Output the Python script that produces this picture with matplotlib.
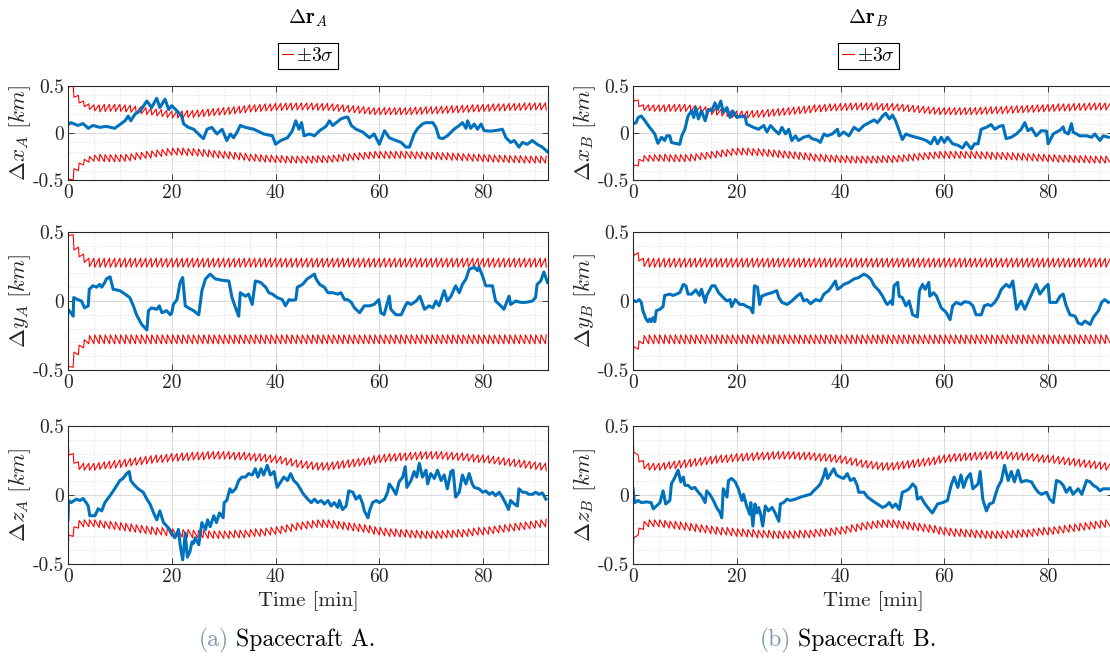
import numpy as np
import matplotlib
matplotlib.use('Agg')
import matplotlib.pyplot as plt
from matplotlib.ticker import MultipleLocator, FuncFormatter
from matplotlib.lines import Line2D

plt.rcParams['font.family'] = 'cmr10'
plt.rcParams['mathtext.fontset'] = 'cm'
plt.rcParams['axes.unicode_minus'] = False
plt.rcParams['axes.formatter.use_mathtext'] = True

# filter update times [min]
t_upd = np.arange(0, 93)

# 3-sigma bound just before (peak) and just after (trough) each update
sig_xA_peak = [0.49, 0.50, 0.40, 0.34, 0.31, 0.30, 0.30, 0.305, 0.305, 0.305,
               0.305, 0.30, 0.295, 0.285, 0.28, 0.27, 0.265, 0.255, 0.25, 0.24,
               0.235, 0.235, 0.235, 0.24, 0.24, 0.245, 0.25, 0.255, 0.26, 0.265,
               0.27, 0.275, 0.28, 0.285, 0.29, 0.30, 0.30, 0.305, 0.31, 0.31,
               0.315, 0.315, 0.32, 0.32, 0.32, 0.32, 0.32, 0.32, 0.315, 0.315,
               0.315, 0.31, 0.305, 0.30, 0.295, 0.29, 0.285, 0.28, 0.275, 0.27,
               0.27, 0.27, 0.27, 0.27, 0.27, 0.27, 0.27, 0.275, 0.275, 0.28,
               0.28, 0.28, 0.285, 0.285, 0.29, 0.29, 0.295, 0.295, 0.30, 0.30,
               0.305, 0.305, 0.31, 0.31, 0.31, 0.315, 0.315, 0.315, 0.32, 0.32,
               0.32, 0.32, 0.32]
sig_xA_trough = [0.49, 0.38, 0.32, 0.28, 0.25, 0.235, 0.225, 0.23, 0.23, 0.23,
                 0.23, 0.225, 0.22, 0.21, 0.205, 0.195, 0.19, 0.18, 0.175, 0.165,
                 0.16, 0.16, 0.16, 0.165, 0.165, 0.17, 0.175, 0.18, 0.185, 0.19,
                 0.195, 0.20, 0.205, 0.21, 0.215, 0.225, 0.225, 0.23, 0.235, 0.235,
                 0.24, 0.24, 0.245, 0.245, 0.245, 0.245, 0.245, 0.245, 0.24, 0.24,
                 0.24, 0.235, 0.23, 0.225, 0.22, 0.215, 0.21, 0.205, 0.20, 0.195,
                 0.195, 0.195, 0.195, 0.195, 0.195, 0.195, 0.195, 0.20, 0.20, 0.205,
                 0.205, 0.205, 0.21, 0.21, 0.215, 0.215, 0.22, 0.22, 0.225, 0.225,
                 0.23, 0.23, 0.235, 0.235, 0.235, 0.24, 0.24, 0.24, 0.245, 0.245,
                 0.245, 0.245, 0.245]
sig_xB_peak = [0.44, 0.35, 0.30, 0.30, 0.30, 0.30, 0.30, 0.305, 0.305, 0.305,
               0.305, 0.30, 0.295, 0.285, 0.28, 0.27, 0.265, 0.255, 0.25, 0.24,
               0.235, 0.235, 0.235, 0.24, 0.24, 0.245, 0.25, 0.255, 0.26, 0.265,
               0.27, 0.275, 0.28, 0.285, 0.29, 0.30, 0.30, 0.305, 0.31, 0.31,
               0.315, 0.315, 0.32, 0.32, 0.32, 0.32, 0.32, 0.32, 0.315, 0.315,
               0.315, 0.31, 0.305, 0.30, 0.295, 0.29, 0.285, 0.28, 0.275, 0.27,
               0.27, 0.27, 0.27, 0.27, 0.27, 0.27, 0.27, 0.275, 0.275, 0.28,
               0.28, 0.28, 0.285, 0.285, 0.29, 0.29, 0.295, 0.295, 0.30, 0.30,
               0.305, 0.305, 0.31, 0.31, 0.31, 0.315, 0.315, 0.315, 0.32, 0.32,
               0.32, 0.32, 0.32]
sig_xB_trough = [0.34, 0.28, 0.24, 0.235, 0.23, 0.23, 0.225, 0.23, 0.23, 0.23,
                 0.23, 0.225, 0.22, 0.21, 0.205, 0.195, 0.19, 0.18, 0.175, 0.165,
                 0.16, 0.16, 0.16, 0.165, 0.165, 0.17, 0.175, 0.18, 0.185, 0.19,
                 0.195, 0.20, 0.205, 0.21, 0.215, 0.225, 0.225, 0.23, 0.235, 0.235,
                 0.24, 0.24, 0.245, 0.245, 0.245, 0.245, 0.245, 0.245, 0.24, 0.24,
                 0.24, 0.235, 0.23, 0.225, 0.22, 0.215, 0.21, 0.205, 0.20, 0.195,
                 0.195, 0.195, 0.195, 0.195, 0.195, 0.195, 0.195, 0.20, 0.20, 0.205,
                 0.205, 0.205, 0.21, 0.21, 0.215, 0.215, 0.22, 0.22, 0.225, 0.225,
                 0.23, 0.23, 0.235, 0.235, 0.235, 0.24, 0.24, 0.24, 0.245, 0.245,
                 0.245, 0.245, 0.245]
sig_yA_peak = [0.475, 0.48, 0.39, 0.34, 0.31, 0.31, 0.31, 0.31, 0.31, 0.31,
               0.31, 0.31, 0.31, 0.31, 0.31, 0.31, 0.31, 0.31, 0.31, 0.31,
               0.31, 0.31, 0.31, 0.31, 0.31, 0.31, 0.31, 0.31, 0.31, 0.31,
               0.31, 0.31, 0.31, 0.31, 0.31, 0.31, 0.31, 0.31, 0.31, 0.31,
               0.31, 0.31, 0.31, 0.31, 0.31, 0.31, 0.31, 0.31, 0.31, 0.31,
               0.31, 0.31, 0.31, 0.31, 0.31, 0.31, 0.31, 0.31, 0.31, 0.31,
               0.31, 0.31, 0.31, 0.31, 0.31, 0.31, 0.31, 0.31, 0.31, 0.31,
               0.31, 0.31, 0.31, 0.31, 0.31, 0.31, 0.31, 0.31, 0.31, 0.31,
               0.31, 0.31, 0.31, 0.31, 0.31, 0.31, 0.31, 0.31, 0.31, 0.31,
               0.31, 0.31, 0.31]
sig_yA_trough = [0.475, 0.37, 0.32, 0.28, 0.25, 0.245, 0.245, 0.245, 0.245, 0.245,
                 0.245, 0.245, 0.245, 0.245, 0.245, 0.245, 0.245, 0.245, 0.245, 0.245,
                 0.245, 0.245, 0.245, 0.245, 0.245, 0.245, 0.245, 0.245, 0.245, 0.245,
                 0.245, 0.245, 0.245, 0.245, 0.245, 0.245, 0.245, 0.245, 0.245, 0.245,
                 0.245, 0.245, 0.245, 0.245, 0.245, 0.245, 0.245, 0.245, 0.245, 0.245,
                 0.245, 0.245, 0.245, 0.245, 0.245, 0.245, 0.245, 0.245, 0.245, 0.245,
                 0.245, 0.245, 0.245, 0.245, 0.245, 0.245, 0.245, 0.245, 0.245, 0.245,
                 0.245, 0.245, 0.245, 0.245, 0.245, 0.245, 0.245, 0.245, 0.245, 0.245,
                 0.245, 0.245, 0.245, 0.245, 0.245, 0.245, 0.245, 0.245, 0.245, 0.245,
                 0.245, 0.245, 0.245]
sig_yB_peak = [0.45, 0.35, 0.31, 0.31, 0.31, 0.31, 0.31, 0.31, 0.31, 0.31,
               0.31, 0.31, 0.31, 0.31, 0.31, 0.31, 0.31, 0.31, 0.31, 0.31,
               0.31, 0.31, 0.31, 0.31, 0.31, 0.31, 0.31, 0.31, 0.31, 0.31,
               0.31, 0.31, 0.31, 0.31, 0.31, 0.31, 0.31, 0.31, 0.31, 0.31,
               0.31, 0.31, 0.31, 0.31, 0.31, 0.31, 0.31, 0.31, 0.31, 0.31,
               0.31, 0.31, 0.31, 0.31, 0.31, 0.31, 0.31, 0.31, 0.31, 0.31,
               0.31, 0.31, 0.31, 0.31, 0.31, 0.31, 0.31, 0.31, 0.31, 0.31,
               0.31, 0.31, 0.31, 0.31, 0.31, 0.31, 0.31, 0.31, 0.31, 0.31,
               0.31, 0.31, 0.31, 0.31, 0.31, 0.31, 0.31, 0.31, 0.31, 0.31,
               0.31, 0.31, 0.31]
sig_yB_trough = [0.33, 0.29, 0.25, 0.245, 0.245, 0.245, 0.245, 0.245, 0.245, 0.245,
                 0.245, 0.245, 0.245, 0.245, 0.245, 0.245, 0.245, 0.245, 0.245, 0.245,
                 0.245, 0.245, 0.245, 0.245, 0.245, 0.245, 0.245, 0.245, 0.245, 0.245,
                 0.245, 0.245, 0.245, 0.245, 0.245, 0.245, 0.245, 0.245, 0.245, 0.245,
                 0.245, 0.245, 0.245, 0.245, 0.245, 0.245, 0.245, 0.245, 0.245, 0.245,
                 0.245, 0.245, 0.245, 0.245, 0.245, 0.245, 0.245, 0.245, 0.245, 0.245,
                 0.245, 0.245, 0.245, 0.245, 0.245, 0.245, 0.245, 0.245, 0.245, 0.245,
                 0.245, 0.245, 0.245, 0.245, 0.245, 0.245, 0.245, 0.245, 0.245, 0.245,
                 0.245, 0.245, 0.245, 0.245, 0.245, 0.245, 0.245, 0.245, 0.245, 0.245,
                 0.245, 0.245, 0.245]
sig_zA_peak = [0.46, 0.30, 0.24, 0.23, 0.23, 0.23, 0.235, 0.24, 0.245, 0.25,
               0.255, 0.26, 0.265, 0.27, 0.275, 0.28, 0.285, 0.29, 0.29, 0.295,
               0.30, 0.30, 0.305, 0.305, 0.31, 0.31, 0.31, 0.315, 0.315, 0.315,
               0.315, 0.315, 0.31, 0.31, 0.31, 0.305, 0.30, 0.30, 0.295, 0.29,
               0.285, 0.28, 0.27, 0.265, 0.255, 0.25, 0.245, 0.24, 0.235, 0.235,
               0.235, 0.24, 0.245, 0.25, 0.255, 0.26, 0.265, 0.27, 0.275, 0.285,
               0.29, 0.295, 0.30, 0.30, 0.305, 0.305, 0.31, 0.31, 0.315, 0.315,
               0.315, 0.315, 0.315, 0.31, 0.31, 0.305, 0.305, 0.30, 0.295, 0.29,
               0.29, 0.285, 0.28, 0.275, 0.27, 0.265, 0.26, 0.255, 0.25, 0.245,
               0.24, 0.235, 0.23]
sig_zA_trough = [0.29, 0.23, 0.185, 0.18, 0.18, 0.18, 0.185, 0.19, 0.19, 0.195,
                 0.20, 0.205, 0.21, 0.215, 0.22, 0.225, 0.23, 0.235, 0.235, 0.24,
                 0.245, 0.245, 0.25, 0.25, 0.255, 0.255, 0.255, 0.26, 0.26, 0.26,
                 0.26, 0.26, 0.255, 0.255, 0.255, 0.25, 0.245, 0.245, 0.24, 0.235,
                 0.23, 0.225, 0.215, 0.21, 0.20, 0.195, 0.19, 0.185, 0.18, 0.18,
                 0.18, 0.185, 0.19, 0.195, 0.20, 0.205, 0.21, 0.215, 0.22, 0.23,
                 0.235, 0.24, 0.245, 0.245, 0.25, 0.25, 0.255, 0.255, 0.26, 0.26,
                 0.26, 0.26, 0.26, 0.255, 0.255, 0.25, 0.25, 0.245, 0.24, 0.235,
                 0.235, 0.23, 0.225, 0.22, 0.215, 0.21, 0.205, 0.20, 0.195, 0.19,
                 0.185, 0.18, 0.175]
sig_zB_peak = [0.45, 0.29, 0.25, 0.23, 0.23, 0.23, 0.235, 0.24, 0.245, 0.25,
               0.255, 0.26, 0.265, 0.27, 0.275, 0.28, 0.285, 0.29, 0.29, 0.295,
               0.30, 0.30, 0.305, 0.305, 0.31, 0.31, 0.31, 0.315, 0.315, 0.315,
               0.315, 0.315, 0.31, 0.31, 0.31, 0.305, 0.30, 0.30, 0.295, 0.29,
               0.285, 0.28, 0.27, 0.265, 0.255, 0.25, 0.245, 0.24, 0.235, 0.235,
               0.235, 0.24, 0.245, 0.25, 0.255, 0.26, 0.265, 0.27, 0.275, 0.285,
               0.29, 0.295, 0.30, 0.30, 0.305, 0.305, 0.31, 0.31, 0.315, 0.315,
               0.315, 0.315, 0.315, 0.31, 0.31, 0.305, 0.305, 0.30, 0.295, 0.29,
               0.29, 0.285, 0.28, 0.275, 0.27, 0.265, 0.26, 0.255, 0.25, 0.245,
               0.24, 0.235, 0.23]
sig_zB_trough = [0.31, 0.24, 0.19, 0.18, 0.18, 0.18, 0.185, 0.19, 0.19, 0.195,
                 0.20, 0.205, 0.21, 0.215, 0.22, 0.225, 0.23, 0.235, 0.235, 0.24,
                 0.245, 0.245, 0.25, 0.25, 0.255, 0.255, 0.255, 0.26, 0.26, 0.26,
                 0.26, 0.26, 0.255, 0.255, 0.255, 0.25, 0.245, 0.245, 0.24, 0.235,
                 0.23, 0.225, 0.215, 0.21, 0.20, 0.195, 0.19, 0.185, 0.18, 0.18,
                 0.18, 0.185, 0.19, 0.195, 0.20, 0.205, 0.21, 0.215, 0.22, 0.23,
                 0.235, 0.24, 0.245, 0.245, 0.25, 0.25, 0.255, 0.255, 0.26, 0.26,
                 0.26, 0.26, 0.26, 0.255, 0.255, 0.25, 0.25, 0.245, 0.24, 0.235,
                 0.235, 0.23, 0.225, 0.22, 0.215, 0.21, 0.205, 0.20, 0.195, 0.19,
                 0.185, 0.18, 0.175]

# estimation errors [km]
t_xA = [0, 0.6, 1.9, 2.9, 3.9, 4.8, 6.1, 7.4, 9.0, 10.0, 11.0, 11.6, 12.1, 12.9, 13.9,
        15.2, 16.1, 17.1, 17.7, 18.7, 19.4, 20.0, 21.0, 21.9, 22.3, 23.2, 24.2, 25.5,
        26.1, 26.8, 27.7, 28.7, 29.7, 30.6, 31.3, 31.9, 32.6, 33.2, 34.2, 35.8, 37.7,
        39.4, 40.0, 41.0, 42.3, 43.2, 43.9, 44.5, 45.0, 45.5, 46.5, 47.5, 48.5, 49.7,
        50.4, 51.0, 51.7, 52.6, 53.3, 53.9, 54.6, 55.5, 56.8, 58.1, 59.0, 60.0, 61.0,
        61.9, 63.2, 64.2, 65.1, 65.8, 66.7, 67.4, 68.3, 68.9, 70.3, 70.9, 71.5, 72.2,
        73.1, 74.4, 75.4, 76.0, 76.7, 77.0, 77.6, 78.3, 78.9, 79.6, 80.2, 81.5, 82.8,
        83.7, 84.4, 85.3, 86.0, 86.9, 87.6, 88.5, 89.5, 90.4, 91.4, 92.4]
e_xA = [0.09, 0.11, 0.08, 0.10, 0.05, 0.08, 0.06, 0.07, 0.05, 0.09, 0.13, 0.18, 0.13, 0.20, 0.235,
        0.34, 0.27, 0.37, 0.27, 0.36, 0.25, 0.29, 0.235, 0.18, 0.095, 0.06, 0.04, -0.03,
        -0.06, 0.04, 0.06, -0.01, 0.04, -0.08, -0.01, -0.05, 0.01, 0.08, 0.06, 0.04, -0.01,
        -0.03, -0.12, -0.08, -0.05, 0.02, 0.13, 0.04, 0.11, -0.03, -0.01, -0.03, 0.025, 0.07,
        0.13, 0.08, 0.11, 0.15, 0.165, 0.17, 0.08, 0.04, 0.01, -0.05, -0.01, -0.12, 0.025,
        -0.05, -0.08, -0.10, -0.15, -0.15, -0.01, 0.05, 0.095, 0.11, 0.11, 0.06, -0.05, -0.06,
        -0.03, 0.04, 0.08, 0.11, 0.05, 0.13, 0.05, 0.095, 0.04, 0.095, 0.025, 0.02, 0.03,
        0.04, -0.05, -0.10, -0.08, -0.15, -0.10, -0.12, -0.08, -0.12, -0.15, -0.20]

t_yA = [0, 0.45, 1.0, 1.1, 1.9, 2.6, 3.2, 3.9, 4.1, 4.8, 5.5, 6.1, 6.5, 7.1, 7.4, 8.1, 8.7,
        10.0, 11.0, 11.9, 12.6, 13.2, 14.2, 15.2, 15.5, 16.1, 17.1, 17.6, 18.1, 19.0, 19.7,
        20.0, 20.3, 21.0, 21.6, 22.1, 22.6, 23.2, 24.2, 25.2, 25.8, 26.5, 27.4, 28.4, 29.7,
        31.0, 31.6, 32.3, 32.9, 33.2, 34.2, 34.8, 35.5, 36.1, 37.1, 38.1, 38.7, 39.4, 40.3,
        41.3, 41.9, 42.6, 43.2, 43.9, 44.2, 45.2, 46.1, 46.5, 47.5, 47.8, 48.5, 49.4, 50.1,
        51.0, 52.0, 52.6, 53.3, 53.9, 54.6, 55.2, 56.2, 57.1, 58.1, 59.0, 59.9, 60.3, 60.9,
        61.9, 62.2, 63.2, 64.2, 65.0, 65.4, 66.1, 67.1, 67.8, 68.7, 69.6, 70.3, 70.9, 71.5,
        72.5, 73.1, 73.8, 74.7, 75.4, 76.0, 76.7, 77.3, 78.3, 78.9, 79.2, 79.9, 80.5, 81.8,
        82.4, 83.4, 84.0, 85.0, 85.3, 86.3, 87.2, 88.2, 89.5, 90.1, 90.4, 91.1, 91.7, 92.4]
e_yA = [-0.06, -0.08, -0.11, 0.025, 0.01, 0.0, -0.05, -0.035, 0.085, 0.11, 0.10, 0.12, 0.10,
        0.135, 0.16, 0.175, 0.085, 0.075, 0.05, 0.025, -0.035, -0.10, -0.17, -0.21, -0.07,
        -0.05, -0.06, -0.035, -0.085, -0.07, -0.10, -0.085, -0.025, 0.01, 0.135, 0.17, -0.035,
        -0.05, -0.07, -0.10, 0.075, 0.16, 0.195, 0.16, 0.15, 0.145, 0.025, -0.05, -0.11, 0.06,
        0.035, 0.05, -0.025, 0.145, 0.135, 0.10, 0.06, 0.05, 0.025, 0.01, -0.035, 0.01, 0.005,
        0.01, 0.10, 0.12, 0.16, 0.17, 0.195, 0.16, 0.12, 0.10, 0.06, 0.06, 0.05, 0.06, 0.01,
        0.01, -0.01, -0.05, -0.085, -0.035, -0.035, -0.025, 0.01, -0.085, -0.10, 0.035, -0.06,
        -0.10, -0.10, -0.035, -0.01, -0.025, 0.0, 0.035, -0.06, -0.035, -0.05, 0.0, -0.035,
        0.075, 0.0, 0.035, 0.11, 0.06, 0.12, 0.16, 0.23, 0.245, 0.22, 0.245, 0.18, 0.11, 0.11,
        0.0, -0.035, -0.06, 0.035, -0.025, 0.0, -0.01, -0.01, 0.0, 0.025, 0.12, 0.145, 0.21, 0.135]

t_zA = [0, 0.1, 0.6, 1.6, 2.3, 2.9, 3.5, 3.9, 4.2, 5.2, 5.8, 6.5, 7.1, 8.1, 9.0, 10.0, 10.6,
        11.3, 11.8, 12.1, 12.6, 13.5, 14.5, 15.2, 15.8, 16.5, 17.1, 17.7, 18.4, 19.4, 20.0,
        20.6, 21.3, 21.6, 22.1, 22.6, 23.0, 23.5, 23.9, 24.2, 24.5, 25.2, 25.8, 26.5, 26.9,
        27.4, 28.1, 28.6, 29.2, 29.9, 30.1, 30.6, 31.2, 31.6, 32.3, 32.9, 33.5, 34.2, 34.8,
        35.5, 36.1, 36.6, 37.2, 37.7, 38.4, 39.0, 39.7, 40.3, 41.0, 41.6, 42.3, 42.9, 43.5,
        44.2, 45.3, 46.2, 46.9, 47.5, 48.1, 48.8, 49.4, 50.1, 50.7, 51.3, 52.0, 52.3, 52.9,
        53.6, 54.1, 54.9, 55.5, 56.2, 56.8, 57.1, 57.8, 58.1, 58.7, 59.4, 60.0, 61.0, 61.6,
        61.9, 62.6, 63.2, 63.8, 64.5, 65.0, 65.3, 66.1, 66.7, 67.2, 67.7, 68.3, 69.0, 69.3,
        69.9, 70.6, 71.2, 71.9, 72.5, 73.1, 73.8, 74.2, 74.7, 75.4, 76.0, 76.7, 77.3, 77.9,
        78.3, 79.2, 79.9, 80.5, 81.2, 81.8, 82.4, 83.1, 83.7, 84.4, 84.9, 85.3, 86.0, 86.6,
        86.9, 87.6, 88.2, 88.8, 89.5, 90.1, 90.8, 91.4, 92.1]
e_zA = [-0.18, -0.04, -0.055, -0.03, -0.04, -0.025, -0.055, -0.08, -0.15, -0.15, -0.10, -0.115,
        -0.055, -0.005, 0.045, 0.105, 0.12, 0.155, 0.17, 0.105, 0.08, 0.045, 0.02, -0.03, -0.065,
        -0.13, -0.18, -0.115, -0.20, -0.24, -0.275, -0.31, -0.25, -0.36, -0.47, -0.275, -0.45,
        -0.41, -0.34, -0.35, -0.31, -0.36, -0.20, -0.25, -0.18, -0.23, -0.15, -0.20, -0.13,
        -0.165, -0.055, -0.04, 0.045, 0.02, 0.045, 0.105, 0.13, 0.13, 0.155, 0.145, 0.19, 0.13,
        0.19, 0.145, 0.215, 0.145, 0.17, 0.055, 0.095, 0.13, 0.105, 0.155, 0.105, 0.08, 0.01,
        -0.03, -0.055, -0.03, -0.055, -0.04, -0.065, -0.04, -0.08, -0.055, -0.09, -0.04, -0.105,
        -0.08, 0.03, 0.02, -0.03, -0.005, -0.065, -0.115, -0.165, -0.115, -0.055, -0.04, -0.055,
        -0.03, 0.02, 0.08, 0.045, 0.005, 0.095, 0.13, 0.205, 0.055, 0.105, 0.17, 0.13, 0.23,
        0.13, 0.18, 0.08, 0.155, 0.12, 0.18, 0.105, 0.145, 0.045, 0.17, 0.18, -0.015, 0.02,
        0.145, 0.08, 0.155, 0.08, 0.055, 0.045, 0.02, 0.03, 0.005, 0.02, -0.005, 0.02, -0.015,
        -0.065, -0.105, -0.04, -0.065, -0.08, 0.045, 0.02, 0.02, 0.005, 0.005, 0.02, 0.005,
        0.015, -0.03]

t_xB = [0, 0.6, 1.0, 1.6, 2.3, 3.2, 4.2, 4.8, 5.5, 6.1, 6.5, 7.1, 7.4, 8.1, 9.0, 9.4, 10.0,
        10.6, 11.3, 11.7, 12.1, 12.6, 13.2, 13.9, 14.5, 15.2, 15.8, 16.3, 16.9, 17.4, 18.1,
        18.7, 19.2, 20.0, 21.0, 21.6, 21.9, 23.2, 24.2, 25.2, 25.8, 26.5, 27.4, 28.1, 28.7,
        29.4, 30.0, 30.6, 31.3, 31.9, 32.9, 33.9, 34.5, 35.5, 36.1, 36.8, 37.4, 38.4, 39.4,
        39.7, 40.6, 41.6, 42.6, 43.5, 44.5, 45.5, 46.5, 47.1, 48.1, 48.7, 49.4, 50.0, 50.6,
        51.3, 51.9, 52.6, 53.5, 54.5, 55.5, 56.5, 57.4, 58.1, 58.7, 59.4, 60.0, 60.6, 61.6,
        62.6, 63.5, 64.2, 65.2, 65.8, 66.5, 67.1, 68.1, 69.0, 69.7, 70.6, 71.3, 71.9, 72.9,
        73.9, 74.8, 75.5, 76.1, 76.8, 77.7, 78.7, 79.7, 80.0, 81.0, 81.6, 82.3, 82.9, 83.2,
        83.9, 84.5, 84.8, 86.1, 87.4, 88.4, 89.0, 90.0, 90.6, 91.6]
e_xB = [0.10, 0.11, 0.165, 0.18, 0.13, 0.06, -0.01, -0.11, -0.045, -0.08, -0.03, -0.03, -0.10,
        -0.11, -0.12, -0.03, 0.04, 0.18, 0.235, 0.165, 0.27, 0.15, 0.235, 0.13, 0.25, 0.235,
        0.32, 0.25, 0.34, 0.22, 0.27, 0.165, 0.235, 0.165, 0.18, 0.18, 0.095, 0.06, 0.04, 0.08,
        0.01, 0.08, 0.025, -0.01, 0.06, -0.01, 0.04, -0.08, -0.03, -0.08, -0.045, -0.03, -0.06,
        -0.075, -0.10, -0.01, -0.03, -0.01, 0.04, -0.03, 0.01, -0.03, 0.06, 0.025, 0.08, 0.11,
        0.14, 0.11, 0.18, 0.21, 0.15, 0.19, 0.13, 0.025, -0.07, -0.01, -0.03, -0.045, -0.06,
        -0.08, -0.115, -0.045, -0.115, -0.045, -0.10, -0.045, -0.115, -0.13, -0.16, -0.10, -0.17,
        -0.115, -0.115, 0.04, 0.06, 0.09, 0.04, 0.07, 0.08, -0.06, -0.045, -0.01, 0.04, 0.11,
        0.025, 0.05, -0.03, 0.025, 0.02, -0.115, -0.01, 0.01, 0.03, 0.065, 0.01, -0.01, 0.10,
        0.01, -0.03, -0.03, -0.045, -0.01, -0.08, -0.03, -0.045]

t_yB = [0, 0.6, 1.2, 1.6, 1.9, 2.5, 2.9, 3.2, 3.5, 3.9, 4.2, 4.5, 5.2, 5.8, 6.1, 7.1, 7.7,
        8.4, 9.0, 9.7, 10.2, 10.6, 11.3, 12.1, 12.8, 13.2, 13.9, 14.2, 15.2, 15.8, 16.5, 17.4,
        18.1, 18.7, 19.0, 19.7, 20.6, 21.3, 21.9, 22.6, 23.1, 23.4, 24.0, 24.4, 24.8, 25.8,
        26.8, 27.7, 28.1, 28.7, 29.7, 30.6, 31.6, 32.3, 32.9, 33.5, 34.2, 35.2, 36.1, 36.8,
        37.7, 38.4, 39.0, 39.4, 40.0, 40.6, 41.6, 42.6, 43.5, 44.5, 45.2, 45.8, 46.5, 47.4,
        48.1, 48.7, 49.0, 49.7, 50.0, 50.3, 51.0, 51.3, 51.9, 52.6, 53.2, 53.9, 54.8, 55.2,
        55.8, 56.3, 57.0, 57.2, 57.9, 58.5, 59.4, 60.3, 61.1, 61.6, 62.3, 63.2, 63.9, 64.8,
        65.5, 66.1, 67.1, 67.7, 68.4, 69.0, 69.7, 70.3, 71.0, 71.9, 72.6, 73.2, 73.9, 74.8,
        75.5, 76.5, 77.1, 77.7, 78.4, 79.4, 80.0, 80.3, 81.6, 82.3, 82.9, 83.4, 84.2, 85.2,
        85.8, 86.5, 87.1, 88.1, 88.7, 89.7, 90.3, 90.9, 91.6]
e_yB = [0.005, -0.005, 0.01, -0.01, -0.07, -0.13, -0.15, -0.13, -0.15, -0.12, -0.15, -0.07,
        -0.06, -0.04, 0.04, 0.05, 0.04, 0.05, 0.06, 0.12, 0.11, 0.05, 0.05, 0.08, 0.04, 0.085,
        -0.01, 0.04, 0.11, 0.11, 0.06, 0.025, 0.0, 0.01, -0.04, 0.01, -0.025, -0.025, -0.04,
        -0.05, -0.085, 0.11, 0.10, -0.025, 0.035, 0.05, 0.06, 0.075, 0.025, -0.01, -0.025, 0.0,
        0.035, 0.055, 0.0, 0.01, -0.02, 0.01, 0.0, 0.05, 0.075, 0.11, 0.145, 0.085, 0.10, 0.12,
        0.135, 0.16, 0.17, 0.195, 0.18, 0.16, 0.11, 0.075, 0.035, -0.01, -0.025, 0.0, -0.025,
        0.11, 0.135, 0.035, 0.025, -0.035, 0.0, -0.10, -0.115, 0.075, 0.12, 0.085, 0.135, 0.035,
        0.06, 0.035, -0.05, -0.08, -0.135, -0.035, -0.01, -0.025, -0.005, -0.01, -0.035, -0.10,
        -0.10, -0.035, -0.025, -0.035, -0.01, 0.025, 0.085, 0.12, 0.10, 0.145, -0.06, 0.0, -0.06,
        0.025, 0.075, 0.12, 0.05, 0.10, 0.12, -0.01, -0.01, 0.035, 0.05, -0.025, -0.10, -0.11,
        -0.16, -0.17, -0.145, -0.17, -0.12, -0.07, -0.01, 0.01, -0.01]

t_zB = [0, 0.3, 1.0, 1.6, 2.6, 3.5, 3.9, 4.5, 5.2, 5.8, 6.3, 7.1, 7.4, 8.1, 8.7, 9.2, 9.7,
        10.0, 10.6, 11.3, 11.9, 12.6, 13.2, 13.9, 14.2, 14.8, 15.5, 16.1, 16.8, 17.1, 17.4,
        18.1, 18.4, 19.0, 19.7, 20.3, 21.0, 21.3, 21.9, 22.5, 22.7, 23.1, 23.5, 23.9, 24.2,
        24.6, 25.0, 25.5, 26.1, 26.8, 27.4, 28.1, 28.4, 29.0, 29.7, 30.3, 31.3, 32.3, 33.2,
        34.2, 34.8, 35.5, 36.1, 36.8, 37.1, 37.5, 38.1, 38.7, 39.2, 39.9, 40.6, 41.3, 41.9,
        42.6, 43.2, 43.5, 44.5, 45.2, 46.1, 47.1, 48.1, 48.7, 49.4, 50.0, 50.6, 51.3, 51.9,
        52.6, 53.2, 53.9, 54.5, 54.8, 55.5, 56.1, 57.1, 57.7, 58.7, 59.7, 60.6, 61.3, 61.9,
        62.6, 63.2, 63.7, 64.3, 65.0, 65.5, 66.5, 66.9, 67.4, 68.1, 68.7, 69.4, 70.3, 71.0,
        71.6, 72.3, 72.9, 73.5, 74.2, 74.8, 75.8, 76.8, 77.4, 78.1, 78.7, 79.7, 80.3, 81.0,
        81.6, 82.3, 82.9, 83.5, 84.2, 84.8, 85.8, 86.5, 87.4, 88.1, 88.7, 89.4, 90.0, 90.6, 91.6]
e_zB = [0.045, -0.055, -0.04, -0.055, -0.05, -0.055, -0.10, -0.08, -0.055, 0.03, -0.065, -0.04,
        0.08, 0.13, 0.18, 0.095, 0.13, 0.07, 0.07, 0.045, 0.055, 0.02, -0.005, -0.055, 0.03,
        0.005, -0.04, -0.09, -0.13, -0.165, 0.045, -0.015, 0.105, 0.12, 0.095, 0.045, -0.04,
        0.005, -0.08, -0.14, -0.055, -0.225, -0.065, -0.13, -0.09, -0.14, -0.225, -0.08, -0.115,
        -0.09, -0.13, -0.19, -0.065, -0.055, -0.03, -0.04, -0.03, -0.015, -0.005, 0.005, 0.03,
        0.055, 0.08, 0.145, 0.19, 0.12, 0.155, 0.19, 0.145, 0.13, 0.12, 0.155, 0.105, 0.12,
        0.07, 0.02, 0.02, -0.015, -0.04, -0.065, -0.09, -0.08, -0.055, -0.09, -0.065, -0.105,
        0.02, 0.03, 0.045, 0.08, 0.055, -0.03, -0.015, -0.055, -0.105, -0.13, -0.065, -0.055,
        -0.04, 0.07, 0.13, 0.055, 0.145, 0.055, 0.12, 0.155, 0.045, 0.08, 0.17, -0.03, -0.115,
        -0.065, -0.055, 0.055, 0.105, 0.215, 0.105, 0.17, 0.095, 0.18, 0.095, 0.105, 0.095,
        0.055, 0.02, 0.005, 0.02, -0.03, -0.055, 0.105, 0.095, 0.07, 0.02, 0.055, 0.005, 0.045,
        0.005, 0.105, 0.095, 0.07, 0.055, 0.03, 0.045, 0.045]

ylabels_A = [r'$\Delta x_A\ [km]$', r'$\Delta y_A\ [km]$', r'$\Delta z_A\ [km]$']
ylabels_B = [r'$\Delta x_B\ [km]$', r'$\Delta y_B\ [km]$', r'$\Delta z_B\ [km]$']


def sawtooth(peaks, troughs):
    ts, ss = [], []
    for k in range(len(peaks)):
        ts += [t_upd[k], t_upd[k] + 0.15]
        ss += [peaks[k], troughs[k]]
    return np.array(ts), np.array(ss)


W, H = 1110, 664
fig = plt.figure(figsize=(W / 100, H / 100), dpi=100)


def pix(x0, y0, x1, y1):
    return [x0 / W, 1 - y1 / H, (x1 - x0) / W, (y1 - y0) / H]


rows = [(86, 180), (232, 370), (426, 564)]
cols = [(68, 548), (633, 1113)]
red = '#ff0000'
blue = '#0072bd'
axc = '#262626'

panels = [
    [(sig_xA_peak, sig_xA_trough, t_xA, e_xA),
     (sig_yA_peak, sig_yA_trough, t_yA, e_yA),
     (sig_zA_peak, sig_zA_trough, t_zA, e_zA)],
    [(sig_xB_peak, sig_xB_trough, t_xB, e_xB),
     (sig_yB_peak, sig_yB_trough, t_yB, e_yB),
     (sig_zB_peak, sig_zB_trough, t_zB, e_zB)],
]
ylabs = [ylabels_A, ylabels_B]

for c, (x0, x1) in enumerate(cols):
    for r, (y0, y1) in enumerate(rows):
        ax = fig.add_axes(pix(x0, y0, x1, y1))
        pk, tr, t, e = panels[c][r]
        ts, ss = sawtooth(pk, tr)
        ax.plot(ts, ss, color=red, lw=0.8)
        ax.plot(ts, -ss, color=red, lw=0.8)
        ax.plot(t, e, color=blue, lw=2.2)
        ax.set_xlim(0, 92.5)
        ax.set_ylim(-0.5, 0.5)
        ax.set_xticks([0, 20, 40, 60, 80])
        ax.set_yticks([-0.5, 0, 0.5])
        ax.xaxis.set_minor_locator(MultipleLocator(5))
        ax.yaxis.set_minor_locator(MultipleLocator(0.1))
        ax.yaxis.set_major_formatter(FuncFormatter(lambda v, p: '%g' % v))
        ax.xaxis.set_major_formatter(FuncFormatter(lambda v, p: '%g' % v))
        ax.set_axisbelow(True)
        ax.grid(which='major', color='#d9d9d9', lw=0.7)
        ax.grid(which='minor', color='#dedede', lw=0.7, ls=':')
        ax.tick_params(direction='in', top=True, right=True, labelsize=14,
                       length=4, width=0.6, color=axc, labelcolor=axc, pad=3)
        ax.tick_params(which='minor', length=0)
        for sp in ax.spines.values():
            sp.set_color(axc)
            sp.set_linewidth(0.8)
        ax.set_ylabel(ylabs[c][r], fontsize=16.5, color=axc)
        ax.yaxis.set_label_coords(-0.072, 0.5)
        if r == 2:
            ax.set_xlabel('Time [min]', fontsize=15, color=axc)
            ax.xaxis.set_label_coords(0.5, -0.2)

    xc = (x0 + x1) / 2 if c == 0 else (x0 + 1110) / 2 - 3
    sc = 'A' if c == 0 else 'B'
    fig.text(xc / W, 1 - 18 / H, r'$\mathbf{\Delta r}_%s$' % sc,
             ha='center', va='center', fontsize=15)
    h = Line2D([], [], color=red, lw=0.8)
    leg = fig.legend(handles=[h], labels=[r'$\pm 3\sigma$'], loc='center',
                     bbox_to_anchor=(xc / W, 1 - 56 / H), frameon=True,
                     fancybox=False, edgecolor='k', framealpha=1,
                     handlelength=0.6, handletextpad=0.15, borderpad=0.2,
                     borderaxespad=0, fontsize=14)
    leg.get_frame().set_linewidth(0.8)

fig.text(229 / W, 1 - 640 / H, '(a)', color='#7d99b5', ha='right', va='center', fontsize=17)
fig.text(236 / W, 1 - 640 / H, 'Spacecraft A.', color='k', ha='left', va='center', fontsize=17)
fig.text(791 / W, 1 - 640 / H, '(b)', color='#7d99b5', ha='right', va='center', fontsize=17)
fig.text(798 / W, 1 - 640 / H, 'Spacecraft B.', color='k', ha='left', va='center', fontsize=17)

fig.savefig('out.png', dpi=100)
